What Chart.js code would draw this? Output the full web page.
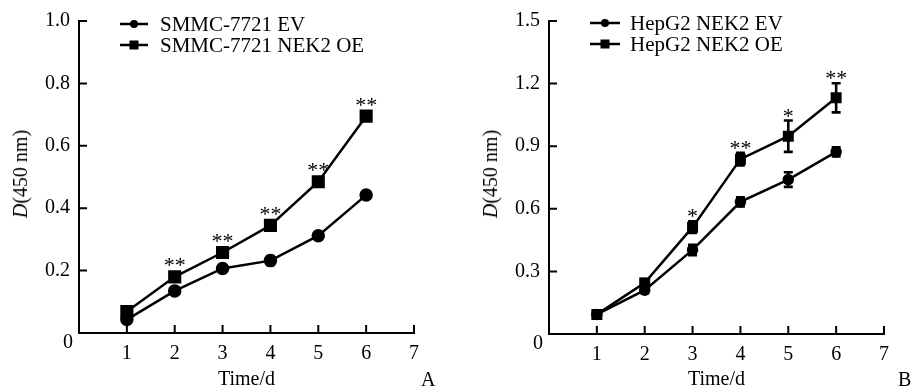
<!DOCTYPE html>
<html>
<head>
<meta charset="utf-8">
<script src="https://cdn.jsdelivr.net/npm/chart.js@4/dist/chart.umd.min.js"></script>
<style>
  html, body { margin: 0; padding: 0; background: #fff; }
  #wrap { position: relative; width: 913px; height: 392px; overflow: hidden; font-family: 'Liberation Serif', 'Times New Roman', serif; color: #000; }
  canvas { position: absolute; top: 0; }
  .ytitle { position: absolute; font-size: 20px; white-space: nowrap; transform: translate(-50%, -50%) rotate(-90deg); line-height: 1; }
  .panel { position: absolute; font-size: 20px; line-height: 1; }
</style>
</head>
<body>
<div id="wrap">
  <canvas id="cA" width="456" height="392" style="left:0px"></canvas>
  <canvas id="cB" width="457" height="392" style="left:456px"></canvas>
  <div class="ytitle" style="left:20px; top:174px;"><i>D</i>(450 nm)</div>
  <div class="ytitle" style="left:490px; top:174px;"><i>D</i>(450 nm)</div>
  <div class="panel" style="left:421px; top:369px;">A</div>
  <div class="panel" style="left:898px; top:369px;">B</div>
</div>
<script>
// ---- data ----
const days = [1, 2, 3, 4, 5, 6];
const xTickValues = [1, 2, 3, 4, 5, 6, 7];

const labelsA = ['SMMC-7721 EV', 'SMMC-7721 NEK2 OE'];
const evA = [0.043, 0.135, 0.207, 0.232, 0.312, 0.442];
const evErrA = [0.010, 0.006, 0.006, 0.015, 0.006, 0.006];
const oeA = [0.069, 0.180, 0.258, 0.345, 0.485, 0.695];
const oeErrA = [0.012, 0.008, 0.008, 0.010, 0.008, 0.012];
const sigA = ['', '**', '**', '**', '**', '**'];
const yTicksA = [0.2, 0.4, 0.6, 0.8, 1.0];

const labelsB = ['HepG2 NEK2 EV', 'HepG2 NEK2 OE'];
const evB = [0.094, 0.210, 0.403, 0.633, 0.740, 0.873];
const evErrB = [0.005, 0.015, 0.025, 0.022, 0.035, 0.022];
const oeB = [0.094, 0.245, 0.512, 0.838, 0.948, 1.132];
const oeErrB = [0.005, 0.018, 0.028, 0.030, 0.075, 0.070];
const sigB = ['', '', '*', '**', '*', '**'];
const yTicksB = [0.3, 0.6, 0.9, 1.2, 1.5];

const FONT = "'Liberation Serif', 'Times New Roman', serif";
Chart.defaults.font.family = FONT;
Chart.defaults.color = '#000';

function pts(vals) { return days.map((d, i) => ({ x: d, y: vals[i] })); }

const decoPlugin = {
  id: 'deco',
  afterDatasetsDraw(chart, args, opts) {
    const ctx = chart.ctx;
    const xs = chart.scales.x, ys = chart.scales.y;
    ctx.save();
    ctx.strokeStyle = '#000';
    ctx.fillStyle = '#000';
    // error bars
    chart.data.datasets.forEach(ds => {
      ctx.lineWidth = 2.6;
      ds.errors.forEach((e, i) => {
        const px = xs.getPixelForValue(ds.data[i].x);
        const yt = ys.getPixelForValue(ds.data[i].y + e);
        const yb = ys.getPixelForValue(ds.data[i].y - e);
        if (yb - yt < 3) return;
        ctx.beginPath();
        ctx.moveTo(px, yt); ctx.lineTo(px, yb);
        ctx.moveTo(px - opts.cap, yt); ctx.lineTo(px + opts.cap, yt);
        ctx.moveTo(px - opts.cap, yb); ctx.lineTo(px + opts.cap, yb);
        ctx.stroke();
      });
    });
    // significance marks
    const sigDs = chart.data.datasets[1];
    ctx.font = '22px ' + FONT;
    ctx.textAlign = 'center';
    ctx.textBaseline = 'alphabetic';
    opts.sig.forEach((s, i) => {
      if (!s) return;
      const px = xs.getPixelForValue(sigDs.data[i].x);
      const topVal = sigDs.data[i].y + sigDs.errors[i];
      const yTop = Math.min(ys.getPixelForValue(topVal), ys.getPixelForValue(sigDs.data[i].y) - opts.markerHalf);
      ctx.fillText(s, px, yTop + opts.sigOffset);
    });
    ctx.restore();
  },
  afterDraw(chart, args, opts) {
    const ctx = chart.ctx;
    const xs = chart.scales.x, ys = chart.scales.y;
    const area = chart.chartArea;
    ctx.save();
    ctx.strokeStyle = '#000';
    ctx.fillStyle = '#000';
    ctx.lineWidth = 2;
    // inward tick marks
    ctx.beginPath();
    xTickValues.forEach(v => {
      const px = xs.getPixelForValue(v);
      ctx.moveTo(px, area.bottom); ctx.lineTo(px, area.bottom - 8);
    });
    opts.yTicks.forEach(v => {
      const py = ys.getPixelForValue(v);
      ctx.moveTo(area.left, py); ctx.lineTo(area.left + 8, py);
    });
    ctx.stroke();
    // origin label
    ctx.font = '20px ' + FONT;
    ctx.textAlign = 'center';
    ctx.textBaseline = 'middle';
    ctx.fillText('0', area.left - 11, area.bottom + 10);
    // legend
    const L = opts.legend;
    ctx.font = '21px ' + FONT;
    ctx.textAlign = 'left';
    chart.data.datasets.forEach((ds, i) => {
      const y = L.y + i * L.dy;
      ctx.lineWidth = 2.5;
      ctx.beginPath();
      ctx.moveTo(L.x0, y); ctx.lineTo(L.x1, y);
      ctx.stroke();
      const mx = (L.x0 + L.x1) / 2;
      if (i === 0) {
        ctx.beginPath(); ctx.arc(mx, y, 4, 0, Math.PI * 2); ctx.fill();
      } else {
        ctx.fillRect(mx - 4.5, y - 4.5, 9, 9);
      }
      ctx.fillText(ds.label, L.tx, y + 1);
    });
    ctx.restore();
  }
};

function makeChart(id, labels, ev, evErr, oe, oeErr, yMax, yStep, yTicks, sig, cfg) {
  return new Chart(document.getElementById(id), {
    type: 'line',
    data: {
      datasets: [
        { label: labels[0], data: pts(ev), errors: evErr, borderColor: '#000', backgroundColor: '#000',
          borderWidth: 2.5, pointStyle: 'circle', pointRadius: cfg.circR, pointHoverRadius: cfg.circR, tension: 0 },
        { label: labels[1], data: pts(oe), errors: oeErr, borderColor: '#000', backgroundColor: '#000',
          borderWidth: 2.5, pointStyle: 'rect', pointRadius: cfg.rectR, pointHoverRadius: cfg.rectR, tension: 0 }
      ]
    },
    options: {
      responsive: false,
      animation: false,
      events: [],
      layout: { padding: { left: 0, right: cfg.padRight, top: 15, bottom: 0 } },
      plugins: {
        legend: { display: false },
        tooltip: { enabled: false },
        deco: { cap: cfg.cap, sig: sig, yTicks: yTicks, legend: cfg.legend, sigOffset: cfg.sigOffset, markerHalf: cfg.markerHalf }
      },
      scales: {
        x: {
          type: 'linear', min: 0, max: 7,
          grid: { display: false, drawTicks: false },
          border: { display: true, color: '#000', width: 2 },
          ticks: { stepSize: 1, padding: 9, font: { size: 20 }, color: '#000',
            callback: v => (v === 0 ? '' : String(v)) },
          title: { display: true, text: 'Time/d', font: { size: 20 }, color: '#000', padding: { top: 2, bottom: 0 } },
          afterFit: s => { s.height = cfg.xH; }
        },
        y: {
          type: 'linear', min: 0, max: yMax,
          grid: { display: false, drawTicks: false },
          border: { display: true, color: '#000', width: 2 },
          ticks: { stepSize: yStep, padding: 9, font: { size: 20 }, color: '#000',
            callback: v => (Math.abs(v) < 1e-9 ? '' : Number(v).toFixed(1)) },
          afterFit: s => { s.width = cfg.yW; }
        }
      }
    },
    plugins: [decoPlugin]
  });
}

makeChart('cA', labelsA, evA, evErrA, oeA, oeErrA, 1.0, 0.2, yTicksA, sigA, {
  yW: 79, xH: 59, padRight: 42, circR: 5.5, rectR: 7.5, cap: 4, sigOffset: 1, markerHalf: 5.5,
  legend: { x0: 120, x1: 148, y: 24, dy: 21, tx: 160 }
});
makeChart('cB', labelsB, evB, evErrB, oeB, oeErrB, 1.5, 0.3, yTicksB, sigB, {
  yW: 93, xH: 58, padRight: 29, circR: 4.5, rectR: 6, cap: 4.5, sigOffset: 2, markerHalf: 4.5,
  legend: { x0: 134, x1: 164, y: 23, dy: 21, tx: 174 }
});
</script>
</body>
</html>
